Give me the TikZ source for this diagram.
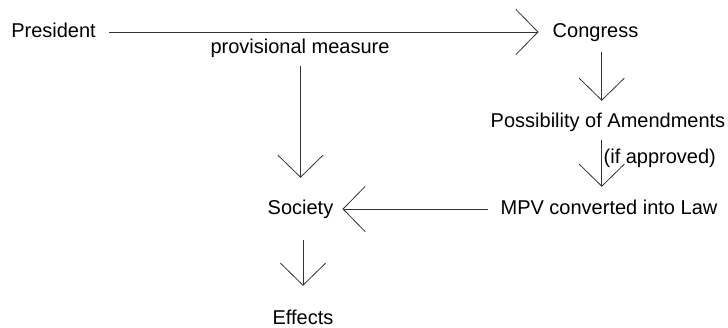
\documentclass[tikz,border=0pt]{standalone}
\usepackage{fontspec}
\setmainfont{Liberation Sans}
\usetikzlibrary{calc}
\usetikzlibrary{arrows.meta}

\begin{document}
\begin{tikzpicture}[x=1pt, y=-1pt, >={Straight Barb[length=22pt, width=45pt]},
    lbl/.style={inner sep=0pt, text=black, font=\fontsize{20}{24}\selectfont, text height=14.5pt, text depth=4.2pt},
    flow/.style={->, black!80, line width=0.8pt}]

    \useasboundingbox (0,0) rectangle (728,328);

    % -------------------------------------------------------
    % 1. Stations of the procedure
    % -------------------------------------------------------
    \node[lbl] (president) at (53.5,32) {President};
    \node[lbl] (congress) at (595.5,32) {Congress};
    \node[lbl] (measure) at (300,48) {provisional measure};
    \node[lbl] (amend) at (608,122) {Possibility of Amendments};
    \node[lbl] (mpv) at (609,209) {MPV converted into Law};
    \node[lbl] (society) at (300.5,209) {Society};
    \node[lbl] (effects) at (303,319) {Effects};

    % -------------------------------------------------------
    % 2. Flow arrows
    % -------------------------------------------------------
    \draw[flow, shorten <=13pt, shorten >=14pt] (president) -- (congress);
    \draw[flow, shorten <=8.65pt, shorten >=21.65pt] (measure.south -| society) -- (society.north);

    % right column: Congress -> amendments -> law
    \path ($(congress.south)!.5!(amend.north)$) coordinate (col);
    \draw[flow, shorten <=10.65pt, shorten >=11.65pt] (col |- congress.south) -- (col |- amend.north);
    \draw[flow, shorten <=8pt, shorten >=12.65pt] (col |- amend.south)
      -- node[lbl, pos=.4, anchor=west, xshift=1.5pt] (cond) {(if approved)} (col |- mpv.north);

    % back to society and its effects
    \draw[flow, shorten <=12pt, shorten >=9pt] (mpv) -- (society);
    \draw[flow, shorten <=21.65pt, shorten >=23.65pt] (society.south -| effects) -- (effects.north);
\end{tikzpicture}
\end{document}
